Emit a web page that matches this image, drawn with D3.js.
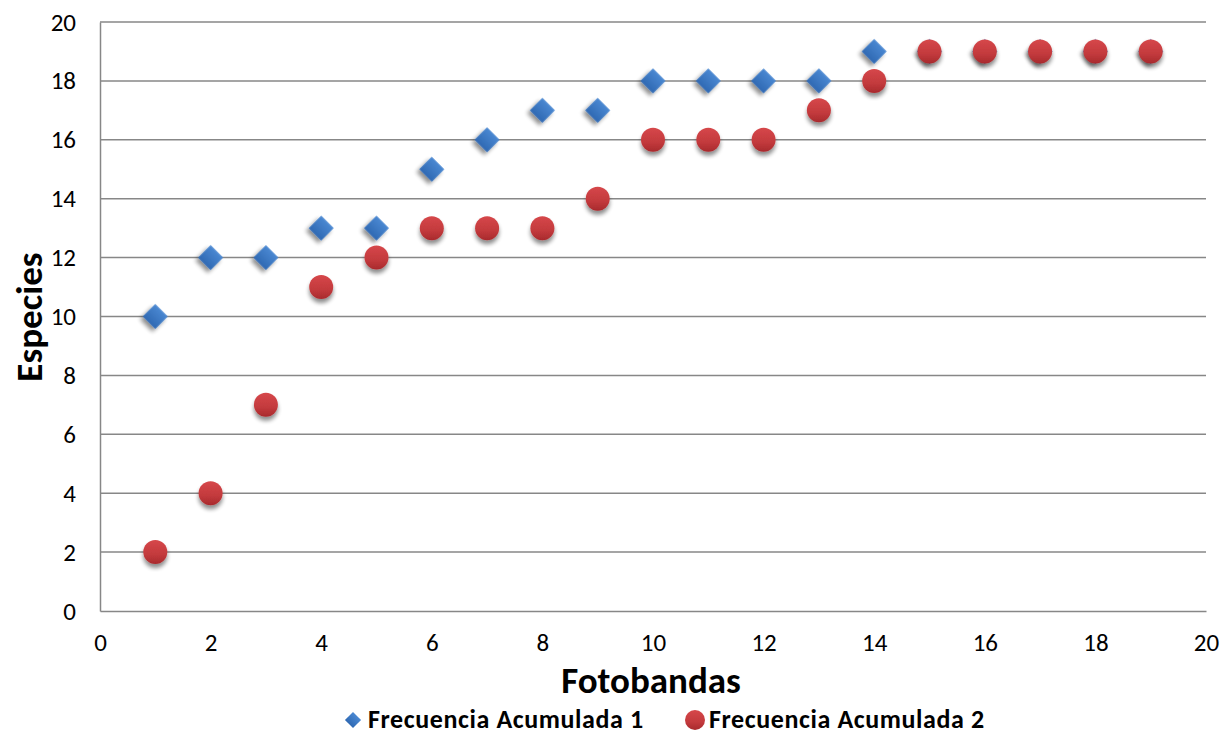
<!DOCTYPE html>
<html>
<head>
<meta charset="utf-8">
<script src="https://cdn.jsdelivr.net/npm/d3@7"></script>
<style>
  html, body { margin: 0; padding: 0; background: #fff; }
  svg { display: block; font-family: Carlito, Lato, "Open Sans", sans-serif; }
</style>
</head>
<body>
<svg id="chart" width="1232" height="736"></svg>
<script>
// Cumulative species counts per photo-strip
const fotobandas = [1, 2, 3, 4, 5, 6, 7, 8, 9, 10, 11, 12, 13, 14, 15, 16, 17, 18, 19];
const frecuencia1 = [10, 12, 12, 13, 13, 15, 16, 17, 17, 18, 18, 18, 18, 19, 19, 19, 19, 19, 19];
const frecuencia2 = [2, 4, 7, 11, 12, 13, 13, 13, 14, 16, 16, 16, 17, 18, 19, 19, 19, 19, 19];
const xTicks = [0, 2, 4, 6, 8, 10, 12, 14, 16, 18, 20];
const yTicks = [0, 2, 4, 6, 8, 10, 12, 14, 16, 18, 20];
const seriesNames = ["Frecuencia Acumulada 1", "Frecuencia Acumulada 2"];

const svg = d3.select("#chart");
const plotLeft = 100, plotRight = 1206, plotTop = 22, plotBottom = 611;

const x = d3.scaleLinear().domain([0, 20]).range([plotLeft, plotRight]);
const y = d3.scaleLinear().domain([0, 20]).range([plotBottom, plotTop]);

const defs = svg.append("defs");
const shadow = defs.append("filter").attr("id", "shadow")
  .attr("x", "-50%").attr("y", "-50%").attr("width", "200%").attr("height", "220%");
shadow.append("feGaussianBlur").attr("in", "SourceAlpha").attr("stdDeviation", 2.2).attr("result", "b");
shadow.append("feOffset").attr("in", "b").attr("dx", 0).attr("dy", 4).attr("result", "o");
shadow.append("feComponentTransfer").attr("in", "o").attr("result", "s")
  .append("feFuncA").attr("type", "linear").attr("slope", 0.45);
const merge = shadow.append("feMerge");
merge.append("feMergeNode").attr("in", "s");
merge.append("feMergeNode").attr("in", "SourceGraphic");

const redGrad = defs.append("linearGradient").attr("id", "redGrad")
  .attr("x1", 0).attr("y1", 0).attr("x2", 0).attr("y2", 1);
redGrad.append("stop").attr("offset", "0%").attr("stop-color", "#d6474a");
redGrad.append("stop").attr("offset", "60%").attr("stop-color", "#c33a3d");
redGrad.append("stop").attr("offset", "100%").attr("stop-color", "#a82a2d");

const blueGrad = defs.append("linearGradient").attr("id", "blueGrad")
  .attr("x1", 0).attr("y1", 0).attr("x2", 0).attr("y2", 1);
blueGrad.append("stop").attr("offset", "0%").attr("stop-color", "#4a88d2");
blueGrad.append("stop").attr("offset", "100%").attr("stop-color", "#2f69b3");

// Horizontal gridlines
svg.append("g").selectAll("line").data(yTicks.slice(1)).join("line")
  .attr("x1", plotLeft).attr("x2", plotRight)
  .attr("y1", d => y(d)).attr("y2", d => y(d))
  .attr("stroke", "#878787").attr("stroke-width", 1.5);

// Axes
const xAxis = svg.append("g").attr("transform", `translate(0,${plotBottom})`)
  .call(d3.axisBottom(x).tickValues(xTicks).tickSize(0).tickPadding(22));
const yAxis = svg.append("g").attr("transform", `translate(${plotLeft},0)`)
  .call(d3.axisLeft(y).tickValues(yTicks).tickSize(0).tickPadding(24));
[xAxis, yAxis].forEach(g => {
  g.select(".domain").attr("stroke", "#878787").attr("stroke-width", 1.5);
  g.selectAll("text").attr("font-size", 25).attr("fill", "#000")
    .attr("font-family", "Carlito, Lato, 'Open Sans', sans-serif");
});
xAxis.selectAll("text").attr("dy", "0.71em");

// Axis titles
svg.append("text").attr("x", 651).attr("y", 693)
  .attr("text-anchor", "middle").attr("font-size", 37).attr("font-weight", "bold")
  .text("Fotobandas");
svg.append("text").attr("transform", `translate(42,317) rotate(-90)`)
  .attr("text-anchor", "middle").attr("font-size", 37).attr("font-weight", "bold")
  .text("Especies");

const diamond = d3.symbol().type(d3.symbolSquare).size(310);

// Series 1: diamonds
svg.append("g").selectAll("path").data(fotobandas).join("path")
  .attr("d", diamond)
  .attr("transform", (d, i) => `translate(${x(d)},${y(frecuencia1[i])}) rotate(45)`)
  .attr("fill", "url(#blueGrad)").attr("filter", "url(#shadow)");

// Series 2: circles
svg.append("g").selectAll("circle").data(fotobandas).join("circle")
  .attr("cx", d => x(d)).attr("cy", (d, i) => y(frecuencia2[i]))
  .attr("r", 12)
  .attr("fill", "url(#redGrad)").attr("filter", "url(#shadow)");

// Legend
const legend = svg.append("g").attr("font-size", 26).attr("font-weight", "bold")
  .attr("letter-spacing", 0.6);
legend.append("path").attr("d", d3.symbol().type(d3.symbolSquare).size(130))
  .attr("transform", "translate(353,720) rotate(45)").attr("fill", "url(#blueGrad)");
legend.append("text").attr("x", 368).attr("y", 728).text(seriesNames[0]);
legend.append("circle").attr("cx", 695).attr("cy", 720).attr("r", 10).attr("fill", "url(#redGrad)");
legend.append("text").attr("x", 709).attr("y", 728).text(seriesNames[1]);
</script>
</body>
</html>
